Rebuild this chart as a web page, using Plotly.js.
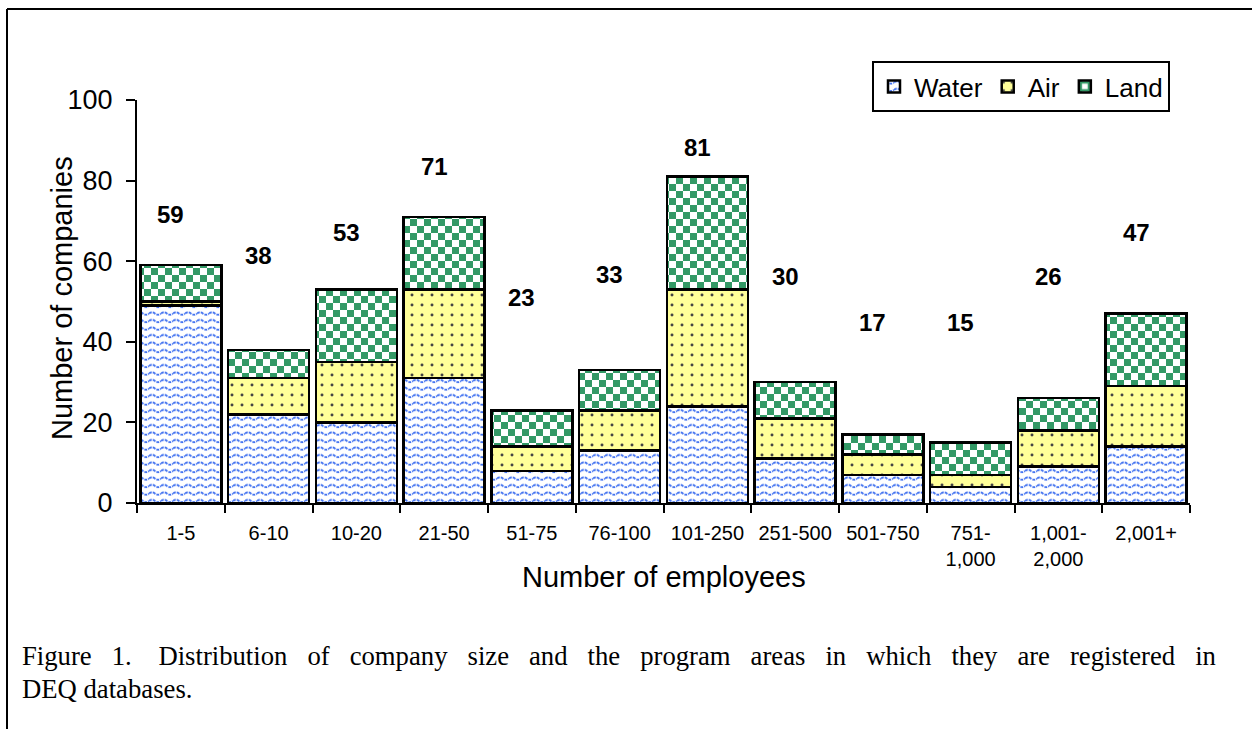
<!DOCTYPE html>
<html>
<head>
<meta charset="utf-8">
<script src="https://cdn.plot.ly/plotly-3.0.1.min.js"></script>
<style>body{margin:0;background:#fff}</style>
</head>
<body>
<div id="chart" style="width:1252px;height:729px"></div>
<script>
var sizes = ['1-5','6-10','10-20','21-50','51-75','76-100','101-250','251-500','501-750','751-1,000','1,001-2,000','2,001+'];
var sizeLabels = ['1-5','6-10','10-20','21-50','51-75','76-100','101-250','251-500','501-750','751-<br>1,000','1,001-<br>2,000','2,001+'];
var water = [49,22,20,31,8,13,24,11,7,4,9,14];
var air   = [1,9,15,22,6,10,29,10,5,3,9,15];
var land  = [9,7,18,18,9,10,28,9,5,8,8,18];
// where the total labels sit on the y scale in the original
var labelHeights = [71.5,61.5,67.2,83.4,51.1,56.6,88.1,56.1,44.9,44.9,56.1,67.2];

var totals = water.map(function(w, i) { return w + air[i] + land[i]; });

var W = 1252, H = 729, L = 137, R = 62, T = 100, B = 226;
function fx(px) { return (px - L) / (W - L - R); }
function fy(py) { return (H - B - py) / (H - T - B); }

var outline = {color: '#000', width: 2.5};

// pattern sizes are used below as keys to swap in wave / checker fills
var trace1 = {
  x: sizes, y: water, type: 'bar', name: 'Water',
  marker: {color: '#fff', line: outline,
    pattern: {shape: '-', fgcolor: '#6d94f7', bgcolor: '#fff', size: 7, solidity: 0.2}}
};
var trace2 = {
  x: sizes, y: air, type: 'bar', name: 'Air',
  marker: {color: '#ffff99', line: outline,
    pattern: {shape: '.', fgcolor: '#444', bgcolor: '#ffff99', size: 10, solidity: 0.07}}
};
var trace3 = {
  x: sizes, y: land, type: 'bar', name: 'Land',
  marker: {color: '#fff', line: outline,
    pattern: {shape: '+', fgcolor: '#339966', bgcolor: '#fff', size: 12, solidity: 0.5}}
};

var sans = 'Liberation Sans, Arial, sans-serif';
var serif = 'Liberation Serif, Times New Roman, serif';

var annotations = totals.map(function(t, i) {
  return {x: sizes[i], y: labelHeights[i], text: String(t), showarrow: false, xshift: -10,
    xanchor: 'center', yanchor: 'middle',
    font: {family: sans, size: 24, color: '#000', weight: 'bold'}};
});

// caption line is justified in the original, so words get wider gaps
var sp = '\u00a0\u00a0\u00a0';
var caption1 = ['Figure', '1.\u00a0\u00a0\u00a0\u00a0Distribution', 'of', 'company', 'size', 'and', 'the', 'program',
  'areas', 'in', 'which', 'they', 'are', 'registered', 'in'].join(sp);

annotations.push(
  {xref: 'paper', yref: 'paper', x: fx(62), y: fy(298), xanchor: 'center', yanchor: 'middle',
    text: 'Number of companies', textangle: -90,
    showarrow: false, font: {family: sans, size: 29, color: '#000'}},
  {xref: 'paper', yref: 'paper', x: fx(664), y: fy(577), xanchor: 'center', yanchor: 'middle',
    text: 'Number of employees',
    showarrow: false, font: {family: sans, size: 29, color: '#000'}},
  {xref: 'paper', yref: 'paper', x: fx(20), y: fy(656), xanchor: 'left', yanchor: 'middle',
    text: caption1, showarrow: false, font: {family: serif, size: 26.7, color: '#000'}},
  {xref: 'paper', yref: 'paper', x: fx(20), y: fy(689), xanchor: 'left', yanchor: 'middle',
    text: 'DEQ databases.', showarrow: false, font: {family: serif, size: 26.7, color: '#000'}}
);

var layout = {
  width: W, height: H,
  margin: {l: L, r: R, t: T, b: B},
  barmode: 'stack', bargap: 0.075,
  paper_bgcolor: '#fff', plot_bgcolor: '#fff',
  font: {family: sans, color: '#000'},
  xaxis: {
    type: 'category', tickmode: 'array', tickvals: sizes, ticktext: sizeLabels, tickson: 'boundaries',
    showline: true, linecolor: '#000', linewidth: 2,
    ticks: 'outside', ticklen: 8, tickwidth: 2, tickcolor: '#000', ticklabelstandoff: 11,
    tickfont: {family: sans, size: 20, color: '#000'}, showgrid: false
  },
  yaxis: {
    range: [0, 100], dtick: 20, showline: true, linecolor: '#000', linewidth: 2,
    ticks: 'outside', ticklen: 9, tickwidth: 2, tickcolor: '#000', ticklabelstandoff: 8,
    tickfont: {family: sans, size: 27, color: '#000'}, showgrid: false, zeroline: false
  },
  legend: {
    orientation: 'h', traceorder: 'normal', x: fx(1170), xanchor: 'right', y: fy(112), yanchor: 'bottom',
    bordercolor: '#000', borderwidth: 2, bgcolor: '#fff', itemwidth: 30,
    font: {family: sans, size: 26, color: '#000'}
  },
  annotations: annotations,
  shapes: [
    {type: 'line', xref: 'paper', yref: 'paper', x0: fx(7), y0: fy(9), x1: fx(1252), y1: fy(9), line: {color: '#000', width: 2}},
    {type: 'line', xref: 'paper', yref: 'paper', x0: fx(7), y0: fy(9), x1: fx(7), y1: fy(729), line: {color: '#000', width: 2}}
  ]
};

function el(tag, attrs) {
  var e = document.createElementNS('http://www.w3.org/2000/svg', tag);
  for (var k in attrs) e.setAttribute(k, attrs[k]);
  return e;
}

function refill(p, w, h, kids) {
  while (p.firstChild) p.removeChild(p.firstChild);
  p.setAttribute('width', w);
  p.setAttribute('height', h);
  p.removeAttribute('patternTransform');
  kids.forEach(function(k) { p.appendChild(k); });
}

Plotly.newPlot('chart', [trace1, trace2, trace3], layout, {displayModeBar: false, staticPlot: true})
  .then(function(gd) {
    gd.querySelectorAll('pattern').forEach(function(p) {
      var w = Math.round(parseFloat(p.getAttribute('width')));
      if (w === 7) {
        // wavy blue lines on white
        refill(p, 12, 7.5, [
          el('rect', {width: 12, height: 7.5, fill: '#fff'}),
          el('path', {d: 'M0,3.5 Q3,1 6,3.5 T12,3.5', fill: 'none', stroke: '#3f70f0',
            'stroke-width': 1.9, 'stroke-dasharray': '3,1'})
        ]);
      } else if (w === 12) {
        // green / white checkerboard
        refill(p, 14, 14, [
          el('rect', {width: 14, height: 14, fill: '#fff'}),
          el('rect', {x: 0, y: 0, width: 7, height: 7, fill: '#339966'}),
          el('rect', {x: 7, y: 7, width: 7, height: 7, fill: '#339966'})
        ]);
      }
    });
  });
</script>
</body>
</html>
